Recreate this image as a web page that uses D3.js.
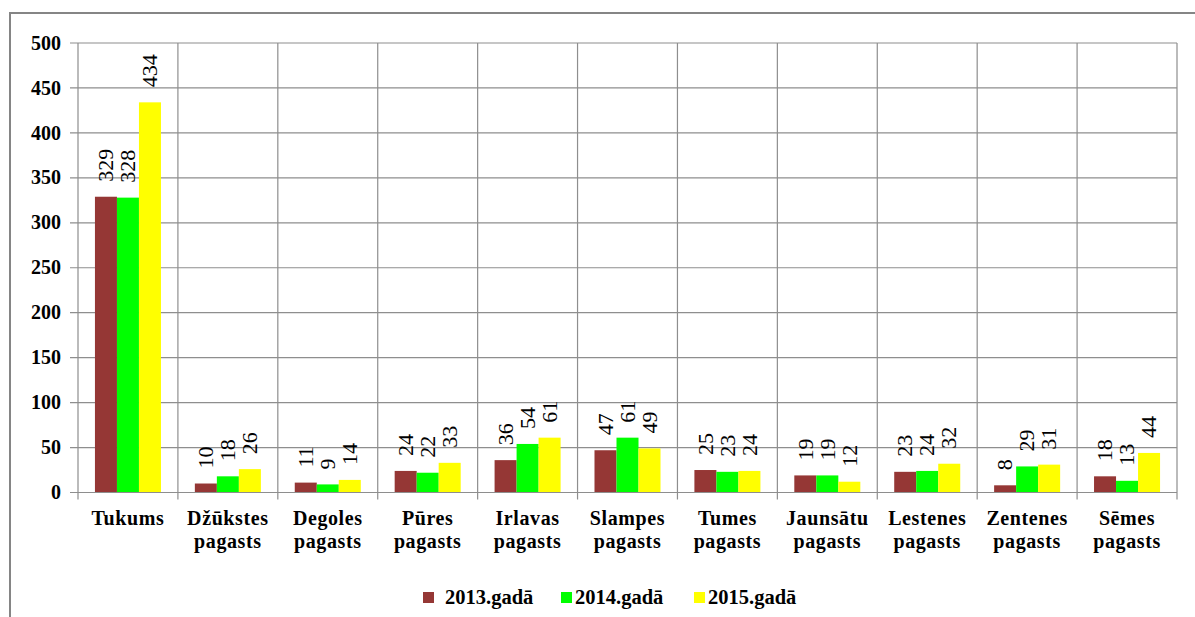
<!DOCTYPE html>
<html><head><meta charset="utf-8">
<script src="https://cdn.jsdelivr.net/npm/d3@7"></script>
</head><body style="margin:0;padding:0;background:#fff;">
<svg id="c" width="1195" height="617" style="display:block"></svg>
<script>
const categories = [["Tukums"],["Džūkstes","pagasts"],["Degoles","pagasts"],["Pūres","pagasts"],["Irlavas","pagasts"],["Slampes","pagasts"],["Tumes","pagasts"],["Jaunsātu","pagasts"],["Lestenes","pagasts"],["Zentenes","pagasts"],["Sēmes","pagasts"]];
const seriesNames = ["2013.gadā","2014.gadā","2015.gadā"];
const seriesColors = ["#953735","#00ff00","#ffff00"];
const values2013 = [329,10,11,24,36,47,25,19,23,8,18];
const values2014 = [328,18,9,22,54,61,23,19,24,29,13];
const values2015 = [434,26,14,33,61,49,24,12,32,31,44];
const yTicks = [0,50,100,150,200,250,300,350,400,450,500];
const series = [values2013, values2014, values2015];

const svg = d3.select("#c");
const L = 78, R = 1177, T = 43, B = 492.5;
const catKeys = categories.map((c,i)=>i);
const x = d3.scaleBand().domain(catKeys).range([L,R]).paddingInner(0).paddingOuter(0);
const xs = d3.scaleBand().domain([0,1,2]).range([0,x.bandwidth()]).paddingInner(0).paddingOuter(0.77);
const y = d3.scaleLinear().domain([0,500]).range([B,T]);
const grid = "#8e8e8e";
const ff = t => t.style("font-family", () => '"Times New Roman", "Liberation Serif", Times, serif');

svg.append("rect").attr("x",10).attr("y",13).attr("width",1300).attr("height",800)
  .attr("fill","none").attr("stroke","#858585").attr("stroke-width",2);

svg.append("g").selectAll("line").data(yTicks).join("line")
  .attr("x1",L-8).attr("x2",R).attr("y1",d=>y(d)).attr("y2",d=>y(d))
  .attr("stroke",grid).attr("stroke-width",1.2);
const bounds = catKeys.map(i=>x(i)).concat([R]);
svg.append("g").selectAll("line").data(bounds).join("line")
  .attr("x1",d=>d).attr("x2",d=>d).attr("y1",T).attr("y2",B+7)
  .attr("stroke",grid).attr("stroke-width",1.2);

const gBars = svg.append("g");
series.forEach((vals,s)=>{
  gBars.selectAll(null).data(vals).join("rect")
    .attr("x",(d,i)=>x(i)+xs(s)).attr("width",xs.bandwidth())
    .attr("y",d=>y(d)).attr("height",d=>B-y(d))
    .attr("fill",seriesColors[s]);
});
svg.append("line").attr("x1",L).attr("x2",R).attr("y1",B).attr("y2",B).attr("stroke",grid).attr("stroke-width",1.2);

series.forEach((vals,s)=>{
  svg.append("g").selectAll("text").data(vals).join("text")
    .attr("transform",(d,i)=>`translate(${x(i)+xs(s)+xs.bandwidth()/2},${y(d)-15}) rotate(-90)`)
    .attr("dy","0.33em")
    .attr("text-anchor","start")
    .call(ff).style("font-size","22px").style("fill","#000")
    .text(d=>d);
});

svg.append("g").selectAll("text").data(yTicks).join("text")
  .attr("x",61).attr("y",d=>y(d)).attr("dy","0.33em").attr("text-anchor","end")
  .call(ff).style("font-weight","bold").style("font-size","20px").text(d=>d);

const gc = svg.append("g");
categories.forEach((lines,i)=>{
  gc.selectAll(null).data(lines).join("text")
    .attr("x",x(i)+x.bandwidth()/2).attr("y",(ln,j)=>525+j*23)
    .attr("text-anchor","middle")
    .call(ff).style("font-weight","bold").style("font-size","20px").style("letter-spacing","0.6px").text(ln=>ln);
});

const legX = [423,561,694];
const lg = svg.append("g");
lg.selectAll("rect").data(seriesNames).join("rect")
  .attr("x",(n,s)=>legX[s]).attr("y",592).attr("width",11).attr("height",11).attr("fill",(n,s)=>seriesColors[s]);
lg.selectAll("text").data(seriesNames).join("text")
  .attr("x",(n,s)=>legX[s]+(s===0?22:14)).attr("y",604)
  .call(ff).style("font-weight","bold").style("font-size","20.5px").text(n=>n);
</script>
</body></html>
